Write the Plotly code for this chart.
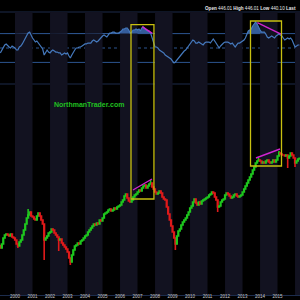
import plotly.graph_objects as go
import pandas as pd

# ---------------- data (monthly, Mar 1999 .. Apr 2016) ----------------
start_month = "1999-03-01"
end_month = "2016-04-01"

close_1999 = [177, 189, 207, 216, 219, 216, 213, 219, 210, 207]
close_2000 = [201, 189, 183, 195, 201, 216, 231, 249, 267, 276, 285, 273]
close_2001 = [270, 264, 261, 273, 282, 273, 261, 249, 201, 207, 213, 222]
close_2002 = [225, 234, 231, 222, 216, 210, 201, 204, 192, 186, 180, 174]
close_2003 = [165, 147, 135, 156, 171, 183, 186, 192, 189, 198, 201, 207]
close_2004 = [213, 216, 225, 231, 237, 243, 249, 246, 252, 249, 261, 258]
close_2005 = [267, 279, 282, 285, 291, 294, 288, 291, 297, 294, 300, 303]
close_2006 = [306, 315, 321, 333, 339, 327, 318, 315, 321, 330, 336, 339]
close_2007 = [345, 351, 348, 357, 363, 366, 357, 363, 369, 372, 360, 354]
close_2008 = [345, 339, 342, 348, 342, 330, 324, 321, 300, 279, 261, 243]
close_2009 = [225, 207, 189, 213, 228, 234, 246, 255, 261, 267, 276, 285]
close_2010 = [297, 303, 315, 324, 312, 306, 315, 309, 318, 321, 324, 327]
close_2011 = [330, 336, 339, 345, 342, 330, 321, 300, 303, 315, 321, 324]
close_2012 = [336, 342, 339, 333, 327, 330, 336, 339, 333, 330, 333, 336]
close_2013 = [345, 354, 363, 372, 381, 390, 399, 411, 420, 432, 438, 441]
close_2014 = [438, 432, 435, 432, 438, 441, 435, 432, 435, 441, 435, 441]
close_2015 = [453, 462, 459, 456, 456, 453, 456, 447, 453, 462, 456, 447]
close_2016 = [432, 438, 444, 446]
first_open = 184

# notable intramonth extremes (month -> low / high)
low_spikes = {"2001-09": 141, "2002-07": 168, "2003-03": 126, "2009-03": 171,
              "2011-08": 285, "2015-08": 417, "2016-01": 420, "2000-03": 177}
high_spikes = {"2000-10": 294, "2007-10": 381, "2015-02": 468, "2013-12": 447}

ind_1999 = [43.1, 47.2, 51.4, 54.2, 55.6, 52.8, 51.4, 50.0, 52.8, 51.4]
ind_2000 = [50.0, 47.2, 47.2, 51.4, 52.8, 55.6, 59.7, 63.9, 68.1, 70.8, 72.2, 66.7]
ind_2001 = [63.9, 61.1, 58.3, 59.7, 56.9, 55.6, 52.8, 48.6, 40.3, 44.4, 47.2, 44.4]
ind_2002 = [43.1, 45.8, 47.2, 45.8, 44.4, 44.4, 43.1, 43.1, 40.3, 41.7, 43.1, 41.7]
ind_2003 = [43.1, 38.9, 36.1, 40.3, 44.4, 47.2, 50.0, 50.0, 51.4, 51.4, 52.8, 54.2]
ind_2004 = [55.6, 55.6, 56.9, 56.9, 56.9, 59.7, 61.1, 59.7, 58.3, 59.7, 62.5, 63.9]
ind_2005 = [66.7, 68.1, 66.7, 65.3, 68.1, 70.8, 70.8, 72.2, 72.2, 70.8, 70.8, 70.8]
ind_2006 = [72.2, 73.6, 76.4, 76.4, 77.8, 77.8, 75.0, 70.8, 72.2, 75.0, 75.0, 76.4]
ind_2007 = [75.0, 76.4, 73.6, 77.8, 79.2, 76.4, 75.0, 73.6, 73.6, 70.8, 63.9, 55.6]
ind_2008 = [51.4, 51.4, 50.0, 47.2, 45.8, 44.4, 43.1, 40.3, 38.9, 37.5, 36.1, 34.7]
ind_2009 = [31.9, 29.2, 30.6, 33.3, 34.7, 37.5, 40.3, 43.1, 45.8, 47.2, 50.0, 52.8]
ind_2010 = [54.2, 58.3, 61.1, 59.7, 56.9, 56.9, 58.3, 56.9, 55.6, 54.2, 56.9, 58.3]
ind_2011 = [58.3, 58.3, 56.9, 59.7, 62.5, 59.7, 56.9, 52.8, 50.0, 52.8, 55.6, 56.9]
ind_2012 = [58.3, 58.3, 58.3, 56.9, 55.6, 56.9, 54.2, 51.4, 54.2, 56.9, 56.9, 58.3]
ind_2013 = [59.7, 61.1, 63.9, 69.4, 73.6, 75.0, 76.4, 80.6, 83.3, 86.1, 83.3, 77.8]
ind_2014 = [75.0, 72.2, 72.2, 72.2, 69.4, 65.3, 63.9, 65.3, 66.7, 65.3, 63.9, 66.7]
ind_2015 = [68.1, 69.4, 68.1, 66.7, 63.9, 61.1, 62.5, 63.9, 62.5, 63.9, 61.1, 55.6]
ind_2016 = [51.4, 52.8, 54.2, 54.2]

ind_upper = 70
ind_mid = 50
ind_lower = 30
ind_min = 0
ind_max = 100

shaded_years = [2000, 2002, 2004, 2006, 2008, 2010, 2012, 2014, 2016]

box_starts = ["2006-08-18", "2013-06-16"]
box_ends = ["2007-12-10", "2015-03-25"]
box_price_bottom = [324, 423]
box_ind_top = [82.6, 87.5]

ind_trend_x = [["2007-04-08", "2007-11-05"], ["2013-11-05", "2015-03-14"]]
ind_trend_y = [[79.6, 70.4], [85.1, 69.4]]
px_trend_x = [["2006-09-28", "2007-10-30"], ["2013-10-08", "2015-02-22"]]
px_trend_y = [[351, 384], [447, 474]]

header_text = "<b>Open</b> 446.01 <b>High</b> 446.01 <b>Low</b> 440.10 <b>Last</b>"
watermark = "NorthmanTrader.com"

# ---------------- build series ----------------
months = pd.date_range(start_month, end_month, freq="MS")
close = (close_1999 + close_2000 + close_2001 + close_2002 + close_2003 + close_2004 +
         close_2005 + close_2006 + close_2007 + close_2008 + close_2009 + close_2010 +
         close_2011 + close_2012 + close_2013 + close_2014 + close_2015 + close_2016)
ind = (ind_1999 + ind_2000 + ind_2001 + ind_2002 + ind_2003 + ind_2004 + ind_2005 +
       ind_2006 + ind_2007 + ind_2008 + ind_2009 + ind_2010 + ind_2011 + ind_2012 +
       ind_2013 + ind_2014 + ind_2015 + ind_2016)
n = min(len(months), len(close), len(ind))
months = months[:n]
close = close[:n]
ind = ind[:n]
opens = [first_open] + close[:-1]
keys = [m.strftime("%Y-%m") for m in months]
highs = [max(o, c, high_spikes.get(k, 0)) for o, c, k in zip(opens, close, keys)]
lows = [min(o, c, low_spikes.get(k, 10**6)) for o, c, k in zip(opens, close, keys)]

# axis ranges
x_range = ["1999-02-22", "2016-04-14"]
price_range = [36, 921]
ind_range = [-293.06, 116.67]


def ind_to_price(v):
    f = (v - ind_range[0]) / (ind_range[1] - ind_range[0])
    return price_range[0] + f * (price_range[1] - price_range[0])


BG = "#000000"
BAND = "#121220"
IND_LINE = "#4579bd"
IND_FILL = "rgba(58,102,168,0.9)"
LEVEL = "#2c5490"
DIM = "#1c2a4a"
YELLOW = "#c8c010"
MAGENTA = "#d024d0"
GREEN = "#1ec81e"
RED = "#e01a1a"
FONT = "Liberation Sans, Arial, sans-serif"

fig = go.Figure()

# indicator fill above the upper level
fig.add_trace(go.Scatter(x=months, y=[ind_upper] * n, yaxis="y2", mode="lines",
                         line=dict(width=0, color=LEVEL), hoverinfo="skip", showlegend=False))
fig.add_trace(go.Scatter(x=months, y=[max(v, ind_upper) for v in ind], yaxis="y2",
                         mode="lines", line=dict(width=0, color=IND_FILL),
                         fill="tonexty", fillcolor=IND_FILL, hoverinfo="skip", showlegend=False))
# indicator line
fig.add_trace(go.Scatter(x=months, y=ind, yaxis="y2", mode="lines",
                         line=dict(width=1.2, color=IND_LINE), showlegend=False))

# price candles
fig.add_trace(go.Candlestick(x=months, open=opens, high=highs, low=lows, close=close,
                             increasing=dict(line=dict(color=GREEN, width=1.6), fillcolor=GREEN),
                             decreasing=dict(line=dict(color=RED, width=1.6), fillcolor=RED),
                             whiskerwidth=0, showlegend=False, yaxis="y"))

# trend lines (magenta)
for xs, ys in zip(ind_trend_x, ind_trend_y):
    fig.add_trace(go.Scatter(x=xs, y=ys, yaxis="y2", mode="lines",
                             line=dict(color=MAGENTA, width=1.4), showlegend=False))
for xs, ys in zip(px_trend_x, px_trend_y):
    fig.add_trace(go.Scatter(x=xs, y=ys, yaxis="y", mode="lines",
                             line=dict(color=MAGENTA, width=1.4), showlegend=False))

shapes = []
for yr in shaded_years:
    shapes.append(dict(type="rect", xref="x", yref="y2", x0=f"{yr}-01-01", x1=f"{yr + 1}-01-01",
                       y0=ind_range[0], y1=ind_max, fillcolor=BAND, line=dict(width=0),
                       layer="below"))
# level lines of the indicator
for lvl, col, dash in [(ind_upper, LEVEL, "solid"), (ind_lower, LEVEL, "solid"),
                       (ind_mid, LEVEL, "dot"), (ind_min, DIM, "solid"), (ind_max, DIM, "solid")]:
    shapes.append(dict(type="line", xref="paper", yref="y2", x0=0, x1=1, y0=lvl, y1=lvl,
                       line=dict(color=col, width=1, dash=dash), layer="below"))
# highlight boxes
for xs, xe, pb, it in zip(box_starts, box_ends, box_price_bottom, box_ind_top):
    shapes.append(dict(type="rect", xref="x", yref="y", x0=xs, x1=xe, y0=pb, y1=ind_to_price(it),
                       line=dict(color=YELLOW, width=1.3), fillcolor="rgba(0,0,0,0)", layer="above"))

fig.update_layout(
    width=300, height=300,
    margin=dict(l=0, r=0, t=0, b=5, pad=0),
    paper_bgcolor=BG, plot_bgcolor=BG,
    shapes=shapes,
    showlegend=False,
    font=dict(family=FONT),
    xaxis=dict(type="date", range=x_range, showgrid=False, zeroline=False,
               tickformat="%Y", dtick="M12", tick0="2000-01-01", ticks="",
               tickfont=dict(size=4.5, color="#c8c8c8", family=FONT),
               ticklabelstandoff=-3,
               showline=True, linecolor="#1c2c4c", linewidth=1,
               rangeslider=dict(visible=False), automargin=False, fixedrange=True),
    yaxis=dict(range=price_range, visible=False, showgrid=False, zeroline=False, fixedrange=True),
    yaxis2=dict(range=ind_range, overlaying="y", visible=False, showgrid=False,
                zeroline=False, fixedrange=True),
    annotations=[
        dict(text=header_text, xref="paper", yref="paper", x=298 / 300, y=1 - 8 / 295,
             xanchor="right", yanchor="middle", showarrow=False,
             font=dict(size=4.6, color="#e8e8e8", family=FONT)),
        dict(text=f"<b>{watermark}</b>", xref="paper", yref="paper", x=89 / 300, y=1 - 104 / 295,
             xanchor="center", yanchor="middle", showarrow=False,
             font=dict(size=7, color="#20c020", family=FONT)),
    ],
)

fig.write_html("out.html")
